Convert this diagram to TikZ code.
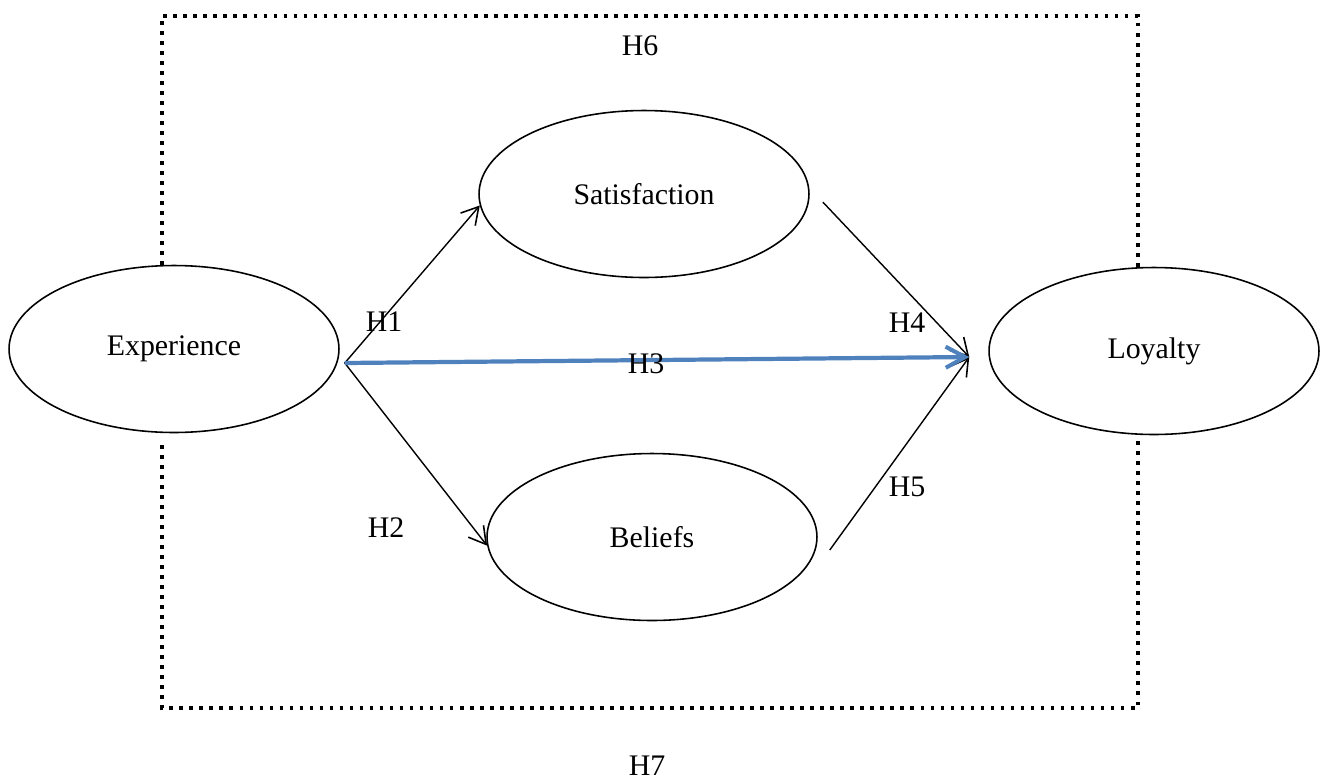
\documentclass[tikz,border=0pt]{standalone}
\usepackage{fontspec}
\setmainfont{Liberation Serif}
\usepackage{xcolor}
\usepackage{tikz}
\usetikzlibrary{shapes.geometric, arrows.meta, calc}

\definecolor{pathblue}{HTML}{4F81BD}

\begin{document}
\begin{tikzpicture}[
        x=0.02cm, y=-0.02cm,
        construct/.style={ellipse, draw, fill=white, line width=0.9pt, minimum width=6.6cm, minimum height=3.34cm, font=\fontsize{17}{20}\selectfont},
        hyp/.style={inner sep=0pt, font=\fontsize{17}{20}\selectfont},
        arrow/.style={-{Straight Barb[length=9.5pt, width=11pt, line width=0.9pt]}, line width=0.8pt},
        direct/.style={-{Straight Barb[length=11pt, width=12pt, line width=2.3pt]}, line width=2.4pt, color=pathblue},
        frame/.style={line width=2.2pt, dash pattern=on 2.1pt off 3.6pt}
    ]
    \useasboundingbox (0,0) rectangle (1325,782);

    % outer dotted frame (broken where the outer constructs sit)
    \draw[frame] (162,265) -- (162,16) -- (1138,16) -- (1138,275);
    \draw[frame] (162,445) -- (162,708) -- (1138,708) -- (1138,440);

    \node[construct] (exp) at (174,349) {Experience};
    \node[construct] (sat) at (644,194) {Satisfaction};
    \node[construct] (bel) at (652,537) {Beliefs};
    \node[construct] (loy) at (1154,351) {Loyalty};

    \coordinate (hub) at ($(exp.east)+(5,14)$);
    \coordinate (loyin) at ($(loy.west)+(-19,6)$);

    \draw[arrow] (hub) -- (sat.184);
    \draw[arrow] (hub) -- (bel.183);
    \draw[arrow] ($(sat.east)+(13,8)$) -- (loyin);
    \draw[arrow] ($(bel.east)+(12,13)$) -- (loyin);
    \draw[direct] (hub) -- (loyin);

    \node[hyp] (h1) at (384,322) {H1};
    \node[hyp] (h2) at (386,528) {H2};
    \node[hyp] (h3) at (646,364) {H3};
    \node[hyp] (h4) at (907,323) {H4};
    \node[hyp] (h5) at (907,487) {H5};
    \node[hyp] (h6) at (640,46) {H6};
    \node[hyp] (h7) at (647,766) {H7};
\end{tikzpicture}
\end{document}
